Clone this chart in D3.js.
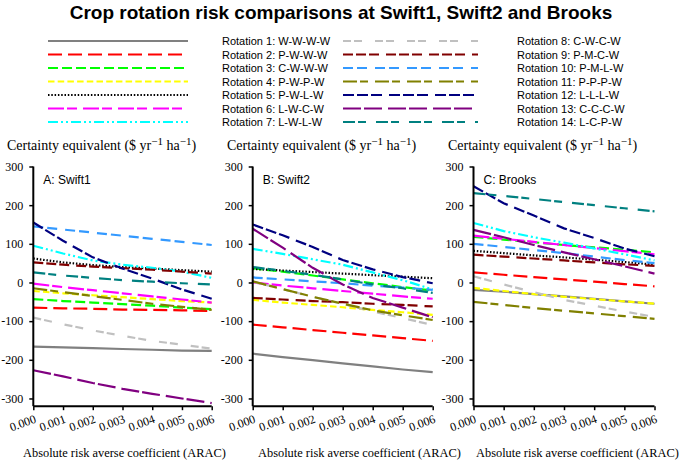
<!DOCTYPE html>
<html>
<head>
<meta charset="utf-8">
<script src="https://cdn.jsdelivr.net/npm/d3@7"></script>
<style>
  html, body { margin: 0; padding: 0; background: #fff; }
  svg { display: block; }
</style>
</head>
<body>
<div id="chart"></div>
<script>
// ---------- data ----------
const arac = [0, 0.001, 0.002, 0.003, 0.004, 0.005, 0.006];
const xTickLabels = ["0.000", "0.001", "0.002", "0.003", "0.004", "0.005", "0.006"];
const yTicks = [-300, -200, -100, 0, 100, 200, 300];
const rotationNames = [
  "Rotation 1: W-W-W-W", "Rotation 2: P-W-W-W", "Rotation 3: C-W-W-W", "Rotation 4: P-W-P-W",
  "Rotation 5: P-W-L-W", "Rotation 6: L-W-C-W", "Rotation 7: L-W-L-W", "Rotation 8: C-W-C-W",
  "Rotation 9: P-M-C-W", "Rotation 10: P-M-L-W", "Rotation 11: P-P-P-W", "Rotation 12: L-L-L-W",
  "Rotation 13: C-C-C-W", "Rotation 14: L-C-P-W"
];
const panelLabels = ["A: Swift1", "B: Swift2", "C: Brooks"];

// Certainty equivalent, one row per rotation (1..14), values at each ARAC
const swift1 = [
  [-166, -168, -170, -172, -174, -176, -177],
  [-65, -67, -68, -70, -71, -72, -74],
  [-43, -48, -52, -56, -60, -65, -69],
  [-22, -28, -33, -38, -43, -48, -52],
  [62, 52, 45, 40, 36, 32, 28],
  [-3, -12, -20, -28, -36, -44, -52],
  [95, 75, 57, 46, 38, 28, 12],
  [-91, -108, -124, -138, -151, -161, -171],
  [52, 46, 41, 37, 33, 28, 23],
  [145, 137, 129, 121, 113, 105, 97],
  [-15, -25, -35, -45, -55, -63, -71],
  [155, 108, 65, 36, 10, -18, -42],
  [-227, -243, -260, -275, -288, -300, -312],
  [26, 18, 12, 6, 2, -2, -5]
];
const swift2 = [
  [-184, -193, -201, -209, -217, -225, -232],
  [-109, -116, -123, -130, -137, -144, -151],
  [37, 28, 18, 8, -2, -12, -21],
  [-45, -52, -58, -64, -71, -77, -84],
  [35, 31, 27, 23, 19, 15, 11],
  [0, -8, -15, -22, -29, -36, -42],
  [87, 74, 60, 46, 26, 6, -18],
  [2, -17, -37, -55, -75, -92, -110],
  [-40, -44, -48, -51, -55, -58, -62],
  [13, 8, 3, -2, -8, -13, -19],
  [3, -17, -37, -55, -72, -85, -97],
  [150, 122, 92, 58, 34, 14, -2],
  [139, 90, 38, -5, -40, -65, -90],
  [40, 30, 20, 8, -5, -15, -27]
];
const brooks = [
  [-19, -24, -30, -36, -42, -49, -55],
  [26, 20, 14, 8, 2, -4, -10],
  [118, 111, 104, 97, 91, 85, 78],
  [-14, -22, -30, -37, -43, -49, -55],
  [82, 76, 70, 65, 59, 53, 46],
  [121, 113, 105, 97, 89, 81, 73],
  [154, 133, 117, 103, 88, 73, 57],
  [16, -5, -25, -45, -60, -75, -89],
  [72, 67, 62, 57, 52, 47, 43],
  [100, 92, 84, 76, 67, 58, 50],
  [-50, -58, -66, -73, -80, -87, -94],
  [249, 205, 173, 140, 115, 88, 68],
  [136, 117, 97, 78, 60, 42, 23],
  [231, 224, 216, 208, 200, 192, 184]
];

// ---------- styles ----------
const colors = ["#808080", "#FF0000", "#00FF00", "#FFFF00", "#000000", "#FF00FF", "#00FFFF",
                "#C0C0C0", "#800000", "#3399FF", "#808000", "#000080", "#800080", "#008080"];
const dashes = ["none", "14,6", "10,4", "6.5,3.2", "1.5,1.8", "16,3,10,6", "10,3,2,3,2,3",
                "8,3,8,13", "10,3,10,3,10,7", "10,4,10,8", "14,3,8,7", "11,3,11,3,11,7",
                "18,3,18,6", "12,3,8,10"];

// ---------- layout ----------
const W = 685, H = 460;
const svg = d3.select("#chart").append("svg").attr("width", W).attr("height", H);
const serif = "'Liberation Serif', 'Times New Roman', serif";
const sans = "'Liberation Sans', Arial, sans-serif";

svg.append("text")
  .attr("x", 341).attr("y", 19)
  .attr("text-anchor", "middle")
  .attr("font-family", sans).attr("font-weight", "bold").attr("font-size", 19)
  .text("Crop rotation risk comparisons at Swift1, Swift2 and Brooks");

// legend
const legendCols = [{lx0: 48, lx1: 188, tx: 222}, {lx0: 343, lx1: 478, tx: 517}];
rotationNames.forEach((name, i) => {
  const col = legendCols[Math.floor(i / 7)];
  const yy = 41 + (i % 7) * 13.5;
  svg.append("line")
    .attr("x1", col.lx0).attr("x2", col.lx1).attr("y1", yy).attr("y2", yy)
    .attr("stroke", colors[i]).attr("stroke-width", 2.2)
    .attr("stroke-dasharray", dashes[i]);
  svg.append("text")
    .attr("x", col.tx).attr("y", yy)
    .attr("dominant-baseline", "central")
    .attr("font-family", sans).attr("font-size", 11)
    .text(name);
});

const panels = [
  {data: swift1, x0: 33.3, x1: 211.7, yt: 7, xt: 23},
  {data: swift2, x0: 252.7, x1: 432.7, yt: 227, xt: 258},
  {data: brooks, x0: 473.5, x1: 654.5, yt: 448, xt: 476}
];
const y = d3.scaleLinear().domain([-320, 300]).range([406.2, 166.5]);

panels.forEach((p, pi) => {
  const x = d3.scaleLinear().domain([0, 0.006]).range([p.x0, p.x1]);
  const g = svg.append("g");

  // y title
  const yt = g.append("text")
    .attr("x", p.yt).attr("y", 150)
    .attr("font-family", serif).attr("font-size", 14);
  yt.append("tspan").text("Certainty equivalent ($ yr");
  yt.append("tspan").attr("dy", -5).attr("font-size", 11).text("\u22121");
  yt.append("tspan").attr("dy", 5).text(" ha");
  yt.append("tspan").attr("dy", -5).attr("font-size", 11).text("\u22121");
  yt.append("tspan").attr("dy", 5).text(")");

  // series lines
  const line = d3.line().x((d, i) => x(arac[i])).y(d => y(d));
  p.data.forEach((vals, si) => {
    g.append("path")
      .datum(vals)
      .attr("d", line)
      .attr("fill", "none")
      .attr("stroke", colors[si])
      .attr("stroke-width", 2.2)
      .attr("stroke-dasharray", dashes[si]);
  });

  // y axis
  const ya = g.append("g").attr("transform", `translate(${p.x0},0)`)
    .call(d3.axisLeft(y).tickValues(yTicks).tickSize(4).tickPadding(6).tickFormat(d => String(d)));
  ya.select(".domain").attr("stroke", "#000").attr("stroke-width", 2)
    .attr("d", `M0,${y(300)}V${y(-320)}`);
  ya.selectAll(".tick line").attr("stroke", "#000").attr("stroke-width", 1.5);
  ya.selectAll(".tick text").attr("font-family", serif).attr("font-size", 12).attr("fill", "#000");

  // x axis
  const xa = g.append("g").attr("transform", `translate(0,${y(-320)})`)
    .call(d3.axisBottom(x).tickValues(arac).tickSize(4).tickFormat((d, i) => xTickLabels[i]));
  xa.select(".domain").attr("stroke", "#000").attr("stroke-width", 2)
    .attr("d", `M${p.x0},0H${p.x1}`);
  xa.selectAll(".tick line").attr("stroke", "#000").attr("stroke-width", 1.5);
  xa.selectAll(".tick text")
    .attr("font-family", serif).attr("font-size", 12).attr("fill", "#000")
    .attr("text-anchor", "end").attr("dy", null).attr("y", null)
    .attr("transform", "translate(3,16) rotate(-20)");

  // panel label
  g.append("text")
    .attr("x", p.x0 + 10).attr("y", 184)
    .attr("font-family", sans).attr("font-size", 12)
    .text(panelLabels[pi]);

  // x title
  g.append("text")
    .attr("x", p.xt).attr("y", 457)
    .attr("font-family", serif).attr("font-size", 12.4)
    .text("Absolute risk averse coefficient (ARAC)");
});
</script>
</body>
</html>
